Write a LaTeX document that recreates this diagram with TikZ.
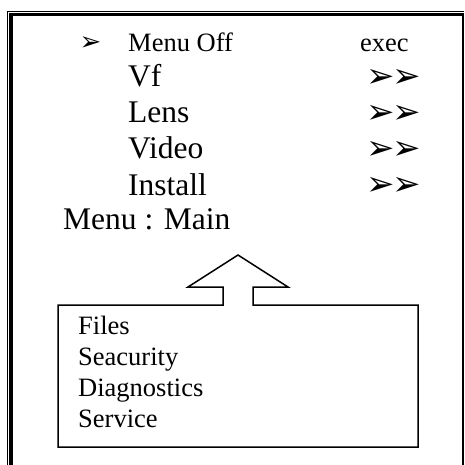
\documentclass[tikz,border=0pt]{standalone}
\usepackage{fontspec}
\setmainfont{Liberation Serif}
\newfontfamily\symfont{DejaVu Sans}
\begin{document}
\begin{tikzpicture}[x=1pt,y=-1pt,
  bigtxt/.style={anchor=base west,inner sep=0pt,font=\fontsize{31.5}{36}\selectfont},
  midtxt/.style={anchor=base west,inner sep=0pt,font=\fontsize{26.5}{31}\selectfont},
  arr/.style={anchor=center,inner sep=0pt,font=\symfont\fontsize{34}{36}\selectfont},
  bul/.style={anchor=center,inner sep=0pt,font=\symfont\fontsize{26}{28}\selectfont},
  boxline/.style={draw=black,line width=1.5pt,line join=miter}]
\useasboundingbox (0,0) rectangle (464,465);
% outer frame
\draw[line width=1pt] (7.5,465) -- (7.5,11.5) -- (464,11.5);
\draw[line width=3.5pt] (10.75,465) -- (10.75,14.75) -- (464,14.75);
\draw[line width=1.5pt] (462.75,16.5) -- (462.75,465);
% menu rows
\node[bul] (b0) at (90.5,44) {➢};
\node[midtxt] (m0) at (128,52) {Menu Off};
\node[midtxt] (e0) at (360,52) {exec};
\node[bigtxt] (m1) at (128,87) {Vf};
\node[bigtxt] (m2) at (128,123) {Lens};
\node[bigtxt] (m3) at (128,159) {Video};
\node[bigtxt] (m4) at (128,195) {Install};
\node[arr] (a1) at (393.5,78) {➢\kern-3pt➢};
\node[arr] (a2) at (393.5,114) {➢\kern-3pt➢};
\node[arr] (a3) at (393.5,150) {➢\kern-3pt➢};
\node[arr] (a4) at (393.5,186) {➢\kern-3pt➢};
\node[bigtxt] (title) at (63,229) {Menu : Main};
% box with up arrow
\coordinate (tip) at (238,255);
\draw[boxline] (223,305) -- (223,287) -- (188,287) -- (tip) -- (288,287) -- (253,287) -- (253,305)
  -- (418,305) -- (418,447) -- (58,447) -- (58,305) -- cycle;
\node[midtxt] (s1) at (78,334) {Files};
\node[midtxt] (s2) at (78,365) {Seacurity};
\node[midtxt] (s3) at (78,396) {Diagnostics};
\node[midtxt] (s4) at (78,427) {Service};
\end{tikzpicture}
\end{document}
